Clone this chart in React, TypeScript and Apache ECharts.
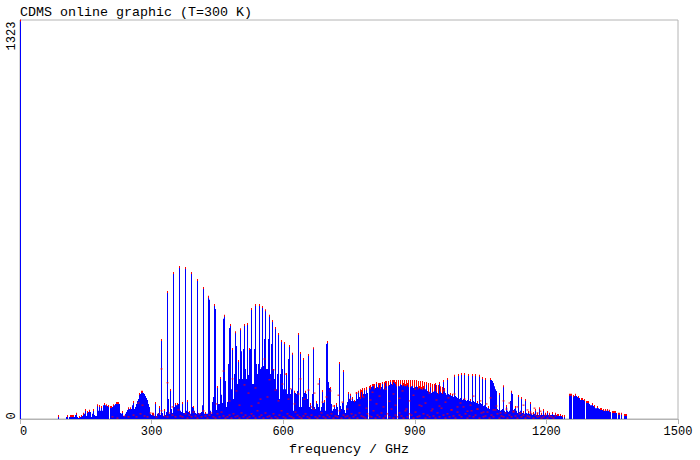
import React, { useEffect, useRef } from "react";
import * as echarts from "echarts";

const TITLE = "CDMS online graphic (T=300 K)";
const X_NAME = "frequency / GHz";
const Y_NAME = "intensity / 10^-6 nm^2 MHz";
const X_MAX = 1500;
const Y_MAX = 1323;
const CHANNEL_GHZ = 1500 / 658;
const FIRST_CHANNEL = 38;
const BLUE = "#0000ff";
const RED = "#ff0000";
const GRAY = "#b4b4b4";

// Intensity of the strongest blue stick in each frequency channel, from channel 38 on
const blueValues = [
10,0,0,0,0,0,0,0,7,10,0,7,10,10,10,10,7,13,17,7,
3,7,7,10,10,17,17,30,10,23,23,27,23,7,17,30,13,10,10,46,27,43,27,40,27,46,50,46,46,43,43,0,40,40,40,
46,46,50,53,53,53,50,20,17,23,10,10,17,23,30,36,33,36,33,46,56,33,40,50,60,66,83,83,90,90,86,83,76,70,63,50,40,17,13,17,17,10,53,10,17,20,40,13,262,
20,10,30,13,23,421,66,17,96,33,20,484,40,50,46,50,50,504,27,23,53,20,20,501,27,60,23,23,17,484,40,40,27,20,17,461,20,17,20,23,46,434,17,20,17,17,405,395,27,17,56,73,378,365,30,106,50,50,136,80,53,332,342,126,40,56,182,302,312,99,232,66,149,288,242,116,192,133,298,225,133,232,312,166,133,315,146,232,232,365,116,116,232,378,182,149,182,378,166,172,371,176,265,361,166,166,265,342,149,249,
325,166,133,302,99,149,282,66,149,259,166,99,252,99,149,83,199,242,83,99,216,27,90,86,83,93,282,40,219,40,73,199,86,90,83,66,212,40,50,33,83,235,40,33,56,50,40,133,27,40,93,53,60,27,249,255,123,103,103,50,27,33,43,33,50,40,13,186,43,33,53,159,30,20,46,56,86,66,80,60,70,60,60,60,86,66,90,73,
66,93,73,83,99,83,99,86,0,106,99,106,109,113,99,103,119,106,103,116,99,106,119,99,103,123,109,0,113,113,126,116,113,126,119,119,109,0,113,109,119,113,109,116,109,113,109,116,106,0,109,109,113,103,106,106,113,106,99,106,99,103,96,106,99,99,116,93,93,90,109,86,93,90,93,116,90,86,83,119,90,86,83,126,93,86,80,133,83,80,83,76,80,73,143,76,73,70,146,66,70,149,63,66,149,63,60,63,146,60,63,56,146,60,56,146,53,56,50,143,53,50,136,43,46,133,40,36,40,33,133,129,126,119,109,99,93,33,30,83,27,30,33,109,27,23,43,27,23,27,60,90,83,30,33,40,27,20,76,23,27,70,20,23,17,63,20,17,23,17,53,17,13,20,17,30,13,17,13,36,13,17,13,30,13,17,13,23,13,17,13,13,20,13,13,17,13,13,13,10,13,10,10,0,10,0,0,0,0,
80,80,80,0,76,76,80,76,73,73,70,63,66,66,63,63,0,56,56,56,50,46,46,50,43,43,36,36,40,36,33,33,33,30,30,27,30,27,30,27,27,23,0,23,23,23,23,20,0,17,17,0,17,0,0,13,13,13];

// Red sticks that stand above the blue in the middle of the first broad band
const redStickChannels = [340,342,344,346,350,352,354,356,358,360,362,364,366,368,370,372,374,376,378,380,382,384,386,388,390,392,394,396,398,400,402,404,406,408,410,412,414,416,418,420,422,424];
const redStickValues = [99,103,103,106,113,116,116,119,119,119,123,123,126,126,126,129,129,129,129,129,129,129,129,129,129,129,129,129,126,126,126,123,123,119,119,116,116,113,113,109,106,103];

// Separate red lines low down among the blue sticks
const redChannels = [92,97,104,108,113,116,120,124,127,130,133,136,139,141,144,147,149,152,155,158,160,162,165,167,169,171,173,175,177,179,181,183,185,187,189,191,193,195,197,199,201,203,205,207,209,211,213,215,217,219,221,223,225,227,229,231,233,235,237,239,241,243,245,247,249,251,253,255,257,259,261,263,265,267,269,271,273,275,277,279,281,283,285,287,289,291,293,295,297,299,301,303,305,307,309,311,313,315,317,319,321,323,325,327,329,331,333,335,337,339,341,343,345,347,349,351,353,355,357,359,361,363,365,367,369,371,373,375,377,379,381,383,385,387,389,391,393,395,397,399,401,403,405,407,409,411,413,415,417,419,421,423,425,427,429,431,433,435,437,439,441,443,445,447,449,451,453,455,457,459,461,463,465,467,469,471,473,475,477,479,481,483,485,487,489,491,493,495,497,499,501,503,505,507,509,511,513,515,517,519,521,523,525,527,529,531,533,535];
const redValues = [7,3,10,7,13,7,17,10,7,20,13,7,17,27,10,7,20,13,7,30,10,7,17,3,13,7,23,10,3,17,7,27,10,3,13,20,7,3,17,7,23,10,3,7,13,3,17,7,10,3,20,7,13,3,7,17,10,3,27,7,13,3,20,7,10,3,17,7,3,13,27,7,3,17,10,7,3,23,13,7,3,10,17,7,3,13,33,7,3,10,20,7,3,13,7,17,3,10,7,27,3,13,7,10,3,17,7,13,3,20,10,7,3,17,10,7,27,3,13,7,20,3,10,17,7,33,3,13,7,20,10,3,27,7,17,13,3,23,7,10,43,17,3,13,7,27,10,3,20,7,36,13,3,17,7,30,10,3,23,13,7,40,17,3,10,27,7,13,33,3,20,7,10,23,3,13,7,30,17,3,10,7,20,3,13,7,23,10,3,17,7,13,3,10,7,17,3,13,7,10,3,7,13,3,10,7,3,10,7,3];

// Red lines higher up inside the blue, where the second-level transitions lie
const redHighChannels = [118,122,141,147,152,196,203,209,212,216,219,224,228,231,235,238,240,244,247,249,253,255,258,262,265,268,270,274,278,280,284,288,291,294,298,302,306,310,313,318,322,327,330,336,339,343,346,350,352,356,359,363,365,369,373,375,379,382,386,389,393,395,399,403,405,409,412,416,419,423,425,428,431,434,437,440,444,447,450,453,457,460,463,466,470,473,476,480,483,486,489,493,497,500,503,507,510,514,517,520];
const redHighValues = [53,46,166,120,40,50,159,60,133,93,46,113,86,43,103,53,66,199,73,130,163,96,60,116,149,66,100,50,83,133,66,96,40,86,116,56,73,93,43,79,56,33,66,86,46,73,36,63,89,50,76,40,99,59,83,46,69,93,33,60,79,99,46,73,53,86,33,63,43,93,56,70,30,83,40,53,66,26,46,76,33,60,23,50,70,30,43,20,60,33,53,26,40,20,46,30,23,36,20,26];

function App() {
  const ref = useRef<HTMLDivElement>(null);
  useEffect(() => {
    const chart = echarts.init(ref.current!, null, { renderer: "svg" });
    const freq = (c: number) => (c + 0.5) * CHANNEL_GHZ;
    const blue: number[][] = [[freq(0), Y_MAX]];
    const tips: number[][] = [[freq(0), Y_MAX - 2]];
    blueValues.forEach((v, i) => {
      if (v <= 0) return;
      const c = FIRST_CHANNEL + i;
      blue.push([freq(c), v]);
      const prev = blueValues[i - 1] ?? 0;
      const next = blueValues[i + 1] ?? 0;
      if (v >= prev && v >= next) tips.push([freq(c), v]);
    });
    const redSticks = redStickChannels.map((c, i) => [freq(c), redStickValues[i]]);
    const reds = redChannels
      .map((c, i) => [freq(c), redValues[i]])
      .concat(redHighChannels.map((c, i) => [freq(c), redHighValues[i]]));
    const font = "'Liberation Mono', monospace";
    chart.setOption({
      animation: false,
      title: {
        text: TITLE,
        left: 20,
        top: 6,
        padding: 0,
        textStyle: { fontFamily: font, fontSize: 13.33, fontWeight: "normal", color: "#000" },
      },
      grid: { left: 20, top: 20, width: 658, height: 399, outerBoundsMode: "none", show: true, borderColor: GRAY, borderWidth: 1, backgroundColor: "transparent" },
      xAxis: {
        type: "value",
        min: 0,
        max: X_MAX,
        interval: 300,
        name: X_NAME,
        nameLocation: "middle",
        nameGap: 21,
        nameTextStyle: { fontFamily: font, fontSize: 13.33, color: "#000" },
        axisLine: { show: true, lineStyle: { color: GRAY, width: 1 } },
        axisTick: { show: true, length: 5, lineStyle: { color: GRAY, width: 1 } },
        splitLine: { show: false },
        axisLabel: {
          fontFamily: font,
          fontSize: 12,
          color: "#000",
          margin: 7,
          formatter: (v: number) => (v === 0 ? "{z|0}" : String(v)),
          rich: { z: { padding: [0, 0, 0, 7], fontFamily: font, fontSize: 12, color: "#000" } },
        },
      },
      yAxis: {
        type: "value",
        min: 0,
        max: Y_MAX,
        interval: Y_MAX,
        name: Y_NAME,
        nameLocation: "middle",
        nameGap: 7,
        nameRotate: 90,
        nameTextStyle: { fontFamily: font, fontSize: 13.33, color: "#000", verticalAlign: "middle", lineHeight: 13 },
        axisLine: { show: false },
        axisTick: { show: false },
        splitLine: { show: false },
        axisLabel: {
          rotate: 90,
          fontFamily: font,
          fontSize: 12,
          color: "#000",
          margin: 2,
          formatter: (v: number) => (v === 0 ? "{z|0}" : "{t|" + v + "}"),
          rich: {
            z: { padding: [0, 0, 0, 6], fontFamily: font, fontSize: 12, color: "#000" },
            t: { padding: [0, 32, 0, 0], fontFamily: font, fontSize: 12, color: "#000" },
          },
        },
      },
      series: [
        { type: "bar", data: redSticks, barWidth: 1, barGap: "-100%", itemStyle: { color: RED }, silent: true },
        { type: "bar", data: blue, barWidth: 1, barGap: "-100%", itemStyle: { color: BLUE }, silent: true },
        { type: "scatter", data: reds, symbol: "rect", symbolSize: [2, 1], itemStyle: { color: RED, opacity: 1 }, silent: true },
        { type: "scatter", data: tips, symbol: "rect", symbolSize: [1, 2], itemStyle: { color: RED, opacity: 1 }, silent: true },
      ],
    });
    return () => chart.dispose();
  }, []);
  return <div ref={ref} style={{ width: 700, height: 460, position: "absolute", left: 0, top: 0 }} />;
}

export default App;
